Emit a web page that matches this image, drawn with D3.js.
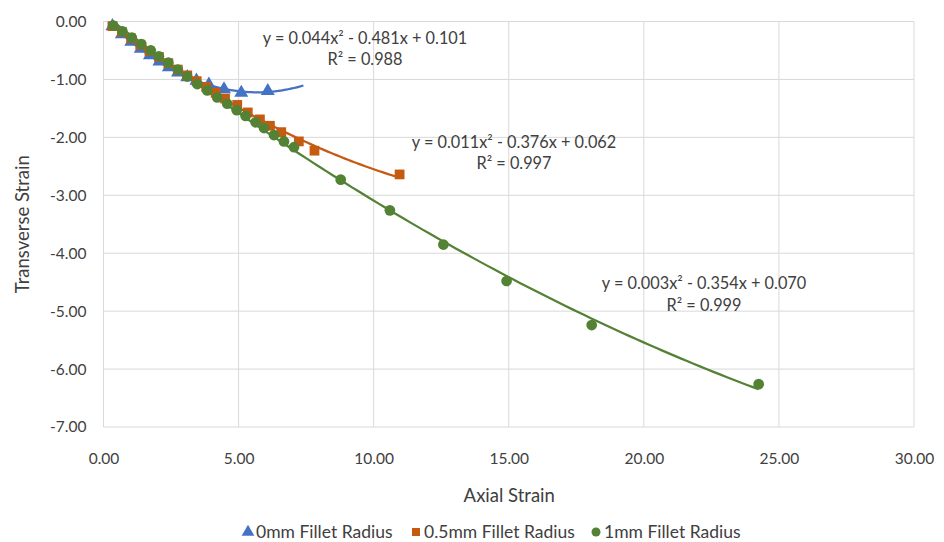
<!DOCTYPE html>
<html><head><meta charset="utf-8">
<script src="https://cdn.jsdelivr.net/npm/d3@7"></script>
<style>body{margin:0;background:#fff}svg{display:block}text{font-family:Lato,"Open Sans",sans-serif;fill:#404040}</style>
</head><body><svg id="c" width="944" height="542"></svg>
<script>
const seriesNames = ["0mm Fillet Radius","0.5mm Fillet Radius","1mm Fillet Radius"];
const blueX = [0.33,0.68,1.03,1.38,1.72,2.07,2.42,2.76,3.1,3.44,3.9,4.46,5.1,6.08];
const blueY = [-0.08,-0.22,-0.35,-0.47,-0.58,-0.69,-0.79,-0.88,-0.96,-1.02,-1.09,-1.17,-1.23,-1.20];
const orangeX = [0.33,0.68,1.02,1.36,1.7,2.05,2.4,2.75,3.1,3.45,3.8,4.15,4.5,4.95,5.34,5.79,6.16,6.58,7.23,7.81,10.96];
const orangeY = [-0.08,-0.18,-0.29,-0.40,-0.51,-0.61,-0.72,-0.83,-0.93,-1.03,-1.13,-1.23,-1.33,-1.44,-1.57,-1.69,-1.80,-1.91,-2.07,-2.23,-2.64];
const greenX = [0.36,0.7,1.05,1.4,1.75,2.05,2.4,2.75,3.1,3.47,3.84,4.21,4.58,4.93,5.26,5.63,5.94,6.31,6.68,7.05,8.78,10.6,12.58,14.92,18.07,24.25];
const greenY = [-0.07,-0.17,-0.28,-0.39,-0.50,-0.60,-0.71,-0.83,-0.95,-1.08,-1.19,-1.31,-1.42,-1.53,-1.63,-1.74,-1.84,-1.96,-2.07,-2.17,-2.73,-3.26,-3.85,-4.48,-5.24,-6.26];
const equations = ["y = 0.044x² - 0.481x + 0.101","y = 0.011x² - 0.376x + 0.062","y = 0.003x² - 0.354x + 0.070"];
const r2Labels = ["R² = 0.988","R² = 0.997","R² = 0.999"];
const xTicks = [0,5,10,15,20,25,30];
const yTicks = [0,-1,-2,-3,-4,-5,-6,-7];
const colors = ["#4472C4","#C55A11","#548235"];

const svg = d3.select("#c");
const x = d3.scaleLinear().domain([0,30]).range([103.5,914]);
const y = d3.scaleLinear().domain([-7,0]).range([427,21.5]);
const fmt = d => d3.format(".2f")(d).replace("\u2212","-");

svg.append("g").selectAll("line").data(yTicks).join("line")
  .attr("x1",x(0)).attr("x2",x(30)).attr("y1",d=>y(d)).attr("y2",d=>y(d))
  .attr("stroke","#D9D9D9").attr("stroke-width",1);
svg.append("g").selectAll("line").data(xTicks).join("line")
  .attr("y1",y(0)).attr("y2",y(-7)).attr("x1",d=>x(d)).attr("x2",d=>x(d))
  .attr("stroke","#D9D9D9").attr("stroke-width",1);

const ya = svg.append("g").attr("transform",`translate(${x(0)},0)`)
  .call(d3.axisLeft(y).tickValues(yTicks).tickFormat(fmt).tickSize(0).tickPadding(17));
const xa = svg.append("g").attr("transform",`translate(0,${y(-7)})`)
  .call(d3.axisBottom(x).tickValues(xTicks).tickFormat(fmt).tickSize(0).tickPadding(26));
[ya,xa].forEach(a=>{a.select(".domain").remove();a.selectAll("text").attr("font-size",15.5).attr("font-family","Lato,sans-serif").attr("fill","#404040");});

svg.append("text").attr("transform",`translate(29,${(y(0)+y(-7))/2}) rotate(-90)`)
  .attr("text-anchor","middle").attr("font-size",18.5).text("Transverse Strain");
svg.append("text").attr("x",(x(0)+x(30))/2+0.5).attr("y",502).attr("text-anchor","middle")
  .attr("font-size",18.5).text("Axial Strain");

function quadFit(xs, ys){
  let n=xs.length,s=[0,0,0,0,0],t=[0,0,0];
  for(let i=0;i<n;i++){const a=xs[i],b=ys[i];let p=1;for(let k=0;k<5;k++){s[k]+=p;if(k<3)t[k]+=p*b;p*=a;}}
  const M=[[s[0],s[1],s[2],t[0]],[s[1],s[2],s[3],t[1]],[s[2],s[3],s[4],t[2]]];
  for(let i=0;i<3;i++){for(let j=i+1;j<3;j++){const f=M[j][i]/M[i][i];for(let k=i;k<4;k++)M[j][k]-=f*M[i][k];}}
  const c=[0,0,0];
  for(let i=2;i>=0;i--){let v=M[i][3];for(let k=i+1;k<3;k++)v-=M[i][k]*c[k];c[i]=v/M[i][i];}
  return xv=>c[0]+c[1]*xv+c[2]*xv*xv;
}
const series = [[blueX,blueY],[orangeX,orangeY],[greenX,greenY]];
const ends = [7.4,null,null];
const line = d3.line().x(d=>x(d[0])).y(d=>y(d[1]));

series.forEach(([xs,ys],i)=>{
  const f=quadFit(xs,ys);
  const x0=d3.min(xs), x1=ends[i]||d3.max(xs);
  const pts=d3.range(0,101).map(k=>{const xv=x0+(x1-x0)*k/100;return [xv,f(xv)];});
  svg.append("path").attr("d",line(pts)).attr("fill","none").attr("stroke",colors[i]).attr("stroke-width",2.25);
});

const symbols=[d3.symbolTriangle,d3.symbolSquare,d3.symbolCircle];
const sizes=[85,95,90];
series.forEach(([xs,ys],i)=>{
  svg.append("g").selectAll("path").data(xs.map((v,k)=>[v,ys[k]])).join("path")
    .attr("transform",d=>`translate(${x(d[0])},${y(d[1])})`)
    .attr("d",d3.symbol(symbols[i],sizes[i])).attr("fill",colors[i]);
});

const eqPos=[[365,44,65],[514,148,169],[704,289,311]];
eqPos.forEach((p,i)=>{
  svg.append("text").attr("x",p[0]).attr("y",p[1]).attr("text-anchor","middle").attr("font-size",16.3).text(equations[i]);
  svg.append("text").attr("x",p[0]).attr("y",p[2]).attr("text-anchor","middle").attr("font-size",16.3).text(r2Labels[i]);
});

const legX=[248,416,596];
seriesNames.forEach((n,i)=>{
  svg.append("path").attr("transform",`translate(${legX[i]},532)`).attr("d",d3.symbol(symbols[i],i==0?70:64)).attr("fill",colors[i]);
  svg.append("text").attr("x",legX[i]+8).attr("y",538).attr("font-size",17.5).text(n);
});
</script></body></html>
